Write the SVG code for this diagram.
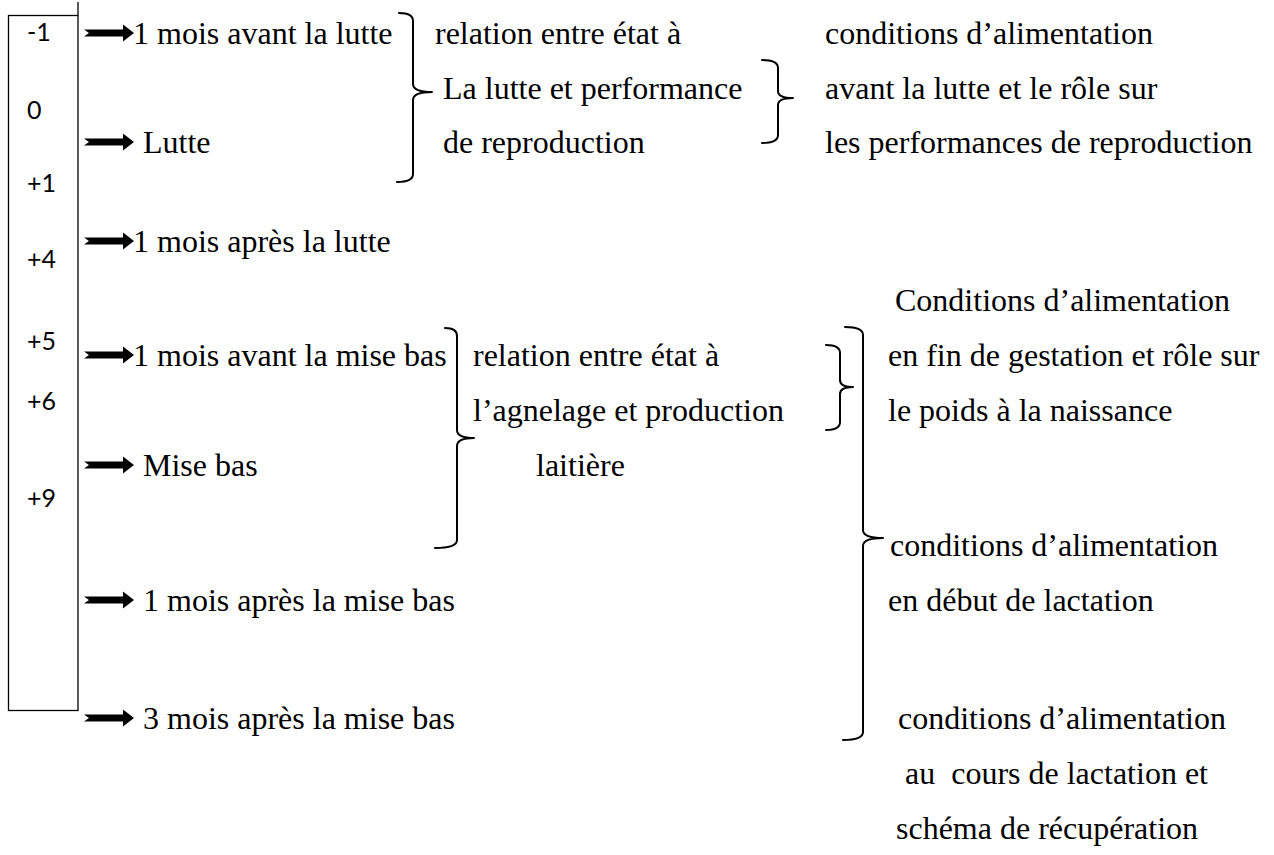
<svg xmlns="http://www.w3.org/2000/svg" xmlns:xlink="http://www.w3.org/1999/xlink" width="1274" height="855" viewBox="0 0 1274 855">
  <style>
    .t { font-family: "Liberation Serif", "Times New Roman", serif; font-size: 32px; fill: #000; }
    .n { font-family: Lato, "Open Sans", sans-serif; font-size: 25px; fill: #000; }
    .br { fill: none; stroke: #000; stroke-width: 2; stroke-linejoin: round; stroke-linecap: round; }
    .box { fill: none; stroke: #000; stroke-width: 1.3; }
  </style>
  <defs>
    <!-- block arrow with notched tail, origin at tail centre -->
    <path id="arr" d="M0,-3.5 L39,-3.5 L39,-8.5 L50,0 L39,8.5 L39,3.5 L0,3.5 L5,0 Z" fill="#000"/>
  </defs>
  <rect width="1274" height="855" fill="#fff"/>

  <!-- month scale -->
  <g id="scale">
    <rect class="box" x="8.5" y="15.5" width="69.5" height="695"/>
    <line class="box" x1="78" y1="2" x2="78" y2="15.5"/>
    <text class="n" x="27" y="41">-1</text>
    <text class="n" x="27" y="119">0</text>
    <text class="n" x="27" y="192">+1</text>
    <text class="n" x="27" y="268">+4</text>
    <text class="n" x="27" y="350">+5</text>
    <text class="n" x="27" y="410">+6</text>
    <text class="n" x="27" y="507">+9</text>
  </g>

  <!-- arrows and braces -->
  <g id="connectors">
    <use xlink:href="#arr" x="84" y="33"/>
    <use xlink:href="#arr" x="84" y="142"/>
    <use xlink:href="#arr" x="84" y="241"/>
    <use xlink:href="#arr" x="84" y="355"/>
    <use xlink:href="#arr" x="84" y="465"/>
    <use xlink:href="#arr" x="84" y="600"/>
    <use xlink:href="#arr" x="84" y="718"/>
    <path class="br" d="M399,13 Q413,13 413,21 V84 Q413,92 432,92 Q413,92 413,100 V174 Q413,182 397,182"/>
    <path class="br" d="M762,60 Q778,60 778,68 V91 Q778,98 793,98 Q778,98 778,105 V135 Q778,143 762,143"/>
    <path class="br" d="M445,328 Q457,328 457,336 V430 Q457,438 474,438 Q457,438 457,446 V540 Q457,548 435,548"/>
    <path class="br" d="M826,345 Q840,345 840,353 V380 Q840,387 853,387 Q840,387 840,394 V422 Q840,430 826,430"/>
    <path class="br" d="M845,327 Q863,327 863,335 V530 Q863,538 883,538 Q863,538 863,546 V732 Q863,740 843,740"/>
  </g>

  <!-- timeline events -->
  <g id="events">
    <text class="t" x="133" y="44">1 mois avant la lutte</text>
    <text class="t" x="143" y="153">Lutte</text>
    <text class="t" x="133" y="252">1 mois après la lutte</text>
    <text class="t" x="133" y="366">1 mois avant la mise bas</text>
    <text class="t" x="143" y="476">Mise bas</text>
    <text class="t" x="143" y="611">1 mois après la mise bas</text>
    <text class="t" x="143" y="729">3 mois après la mise bas</text>
  </g>

  <g id="relation-lutte">
    <text class="t" x="435" y="44">relation entre état à</text>
    <text class="t" x="443" y="99">La lutte et performance</text>
    <text class="t" x="443" y="153">de reproduction</text>
  </g>

  <g id="alim-lutte">
    <text class="t" x="825" y="44">conditions d’alimentation</text>
    <text class="t" x="825" y="99">avant la lutte et le rôle sur</text>
    <text class="t" x="825" y="153">les performances de reproduction</text>
  </g>

  <g id="relation-agnelage">
    <text class="t" x="473" y="366">relation entre état à</text>
    <text class="t" x="473" y="421">l’agnelage et production</text>
    <text class="t" x="536" y="476">laitière</text>
  </g>

  <g id="alim-gestation">
    <text class="t" x="895" y="311">Conditions d’alimentation</text>
    <text class="t" x="888" y="366">en fin de gestation et rôle sur</text>
    <text class="t" x="888" y="421">le poids à la naissance</text>
  </g>

  <g id="alim-debut-lactation">
    <text class="t" x="890" y="556">conditions d’alimentation</text>
    <text class="t" x="888" y="611">en début de lactation</text>
  </g>

  <g id="alim-cours-lactation">
    <text class="t" x="898" y="729">conditions d’alimentation</text>
    <text class="t" x="905" y="784" xml:space="preserve">au  cours de lactation et</text>
    <text class="t" x="896" y="839">schéma de récupération</text>
  </g>
</svg>
